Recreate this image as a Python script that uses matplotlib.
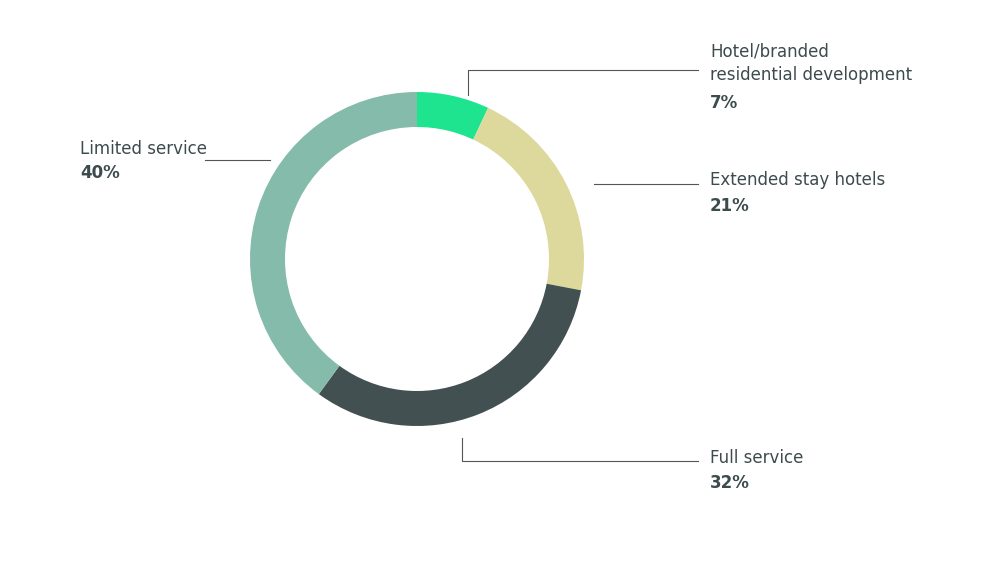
import matplotlib
matplotlib.use("Agg")
import matplotlib.pyplot as plt

labels = ["Hotel/branded\nresidential development", "Extended stay hotels", "Full service", "Limited service"]
shares = [7, 21, 32, 40]
colors = ["#1ee48f", "#ddd99d", "#435052", "#85bbab"]

H = 563
fig = plt.figure(figsize=(10, 5.63), dpi=100)
ax = fig.add_axes([0, 0, 1, 1])

ax.pie(shares, colors=colors, startangle=90, counterclock=False,
       center=(417, H - 259), radius=167, frame=True,
       wedgeprops=dict(width=35, linewidth=0))
ax.set_xlim(0, 1000)
ax.set_ylim(0, H)
ax.set_aspect("equal")
ax.axis("off")

txt = "#3d4b4d"
line = dict(color="#555555", lw=0.8)
# leader lines (pixel coords, y from top)
ax.plot([468, 468, 698], [H - 95, H - 70, H - 70], **line)
ax.plot([594, 698], [H - 184, H - 184], **line)
ax.plot([462, 462, 698], [H - 438, H - 461, H - 461], **line)
ax.plot([205, 270], [H - 160, H - 160], **line)

spots = [(710, 42, 103), (710, 180, 206), (710, 458, 483), (80, 149, 173)]
for lab, v, (x, y, yp) in zip(labels, shares, spots):
    multi = "\n" in lab
    ax.text(x, H - y, lab, fontsize=12, color=txt, ha="left",
            va="top" if multi else "center", linespacing=1.4)
    ax.text(x, H - yp, f"{v}%", fontsize=12, color=txt, va="center", ha="left", fontweight="bold")

fig.savefig("out.png", dpi=100, facecolor="white")
